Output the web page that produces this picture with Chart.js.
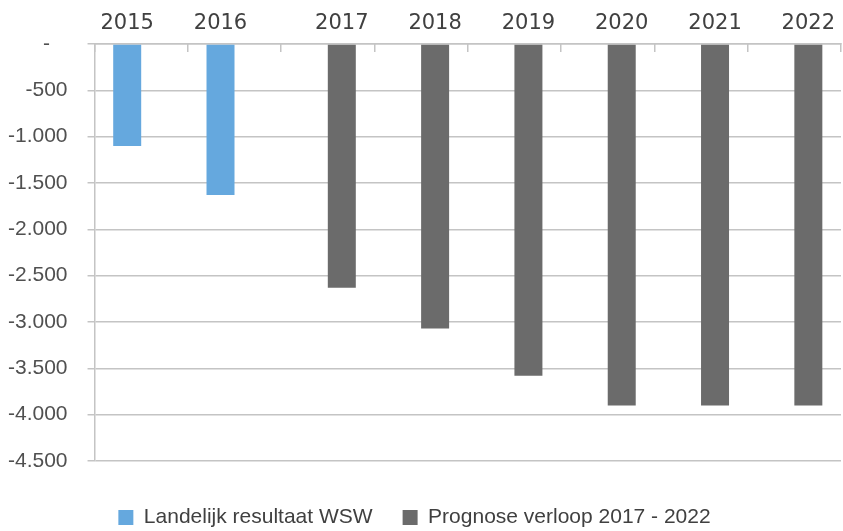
<!DOCTYPE html>
<html>
<head>
<meta charset="utf-8">
<script src="https://cdn.jsdelivr.net/npm/chart.js@4/dist/chart.umd.min.js"></script>
<style>
    html, body { margin: 0; padding: 0; background: #fff; }
    #wrap { width: 843px; height: 531px; }
</style>
</head>
<body>
<div id="wrap"><canvas id="chart"></canvas></div>
<script>
// jaren (categorieën)
const years = ['2015', '2016', '2017', '2018', '2019', '2020', '2021', '2022'];
// gerealiseerd resultaat
const resultaatWSW = [-1100, -1630, null, null, null, null, null, null];
// prognose
const prognose = [null, null, -2630, -3070, -3580, -3900, -3900, -3900];

const labelFont = "'Liberation Sans', Arial, sans-serif";
const gridColor = '#c4c4c4';

// jaartallen boven de balken zelf zetten (Excel zet ze boven de staaf, niet midden categorie)
const yearLabels = {
    id: 'yearLabels',
    afterDraw(chart) {
        const ctx = chart.ctx;
        ctx.save();
        ctx.font = '21px "DejaVu Sans", sans-serif';
        ctx.fillStyle = '#404040';
        ctx.textAlign = 'center';
        ctx.textBaseline = 'middle';
        years.forEach((y, i) => {
            const ds = resultaatWSW[i] !== null ? 0 : 1;
            const bar = chart.getDatasetMeta(ds).data[i];
            ctx.fillText(y, bar.x, 24);
        });
        ctx.restore();
    }
};

const ctx = document.getElementById('chart').getContext('2d');
const chart = new Chart(ctx, {
    type: 'bar',
    data: {
        labels: years,
        datasets: [{
            label: 'Landelijk resultaat WSW',
            data: resultaatWSW,
            backgroundColor: '#65A8DE'
        }, {
            label: 'Prognose verloop 2017 - 2022',
            data: prognose,
            backgroundColor: '#6B6B6B'
        }]
    },
    options: {
        responsive: true,
        maintainAspectRatio: false,
        animation: false,
        categoryPercentage: 0.6,
        barPercentage: 1,
        layout: { padding: { top: 0, left: -12, right: 2, bottom: -7 } },
        scales: {
            x: {
                position: 'top',
                grid: { drawOnChartArea: false, tickLength: -8, color: gridColor, lineWidth: 1.5 },
                border: { color: gridColor, width: 1.5 },
                ticks: { display: false },
                afterFit: s => { s.height = 44; }
            },
            // lege ruimte tussen grafiek en legenda
            spacer: {
                type: 'category',
                position: 'bottom',
                labels: years,
                grid: { display: false },
                border: { display: false },
                ticks: { display: false },
                afterFit: s => { s.height = 16; }
            },
            y: {
                min: -4500,
                max: 0,
                grid: { color: gridColor, lineWidth: 1.5, tickLength: 7 },
                border: { color: gridColor, width: 1.5 },
                ticks: {
                    stepSize: 500,
                    padding: 20,
                    color: '#505050',
                    font: { family: labelFont, size: 21 },
                    callback: v => v === 0 ? '-   ' : '-' + String(Math.abs(v)).replace(/\B(?=(\d{3})+(?!\d))/g, '.')
                }
            }
        },
        plugins: {
            legend: {
                position: 'bottom',
                labels: {
                    boxWidth: 15,
                    boxHeight: 15,
                    padding: 30,
                    color: '#404040',
                    font: { family: labelFont, size: 21 }
                }
            },
            tooltip: { enabled: false }
        }
    },
    plugins: [yearLabels]
});
</script>
</body>
</html>
